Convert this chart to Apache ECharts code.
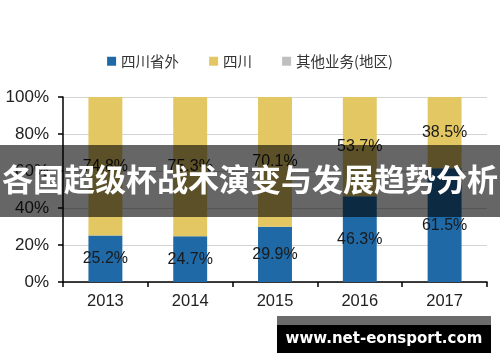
<!DOCTYPE html>
<html><head><meta charset="utf-8">
<script src="https://cdn.jsdelivr.net/npm/echarts@6/dist/echarts.min.js"></script>
<style>html,body{margin:0;padding:0;background:#fff}#c{width:500px;height:362px}</style>
</head><body><div id="c"></div>
<script>
const categories = ['2013','2014','2015','2016','2017'];
const outside = [25.2, 24.7, 29.9, 46.3, 61.5];
const sichuan = [74.8, 75.3, 70.1, 53.7, 38.5];
const other = [0, 0, 0, 0, 0];
const seriesNames = ['四川省外','四川','其他业务(地区)'];
const yTicks = [0,20,40,60,80,100];

const chart = echarts.init(document.getElementById('c'));
const lbl = {show:true, position:'inside', formatter: p => p.value.toFixed(1)+'%', color:'#1a1a1a', fontFamily:'Liberation Sans, Arial', fontSize:16};
chart.setOption({
  animation:false,
  legend:{top:49, left:'center', itemWidth:9, itemHeight:9, itemGap:30, icon:'rect',
    textStyle:{fontFamily:'Noto Sans CJK SC', fontSize:14.5, color:'#333'}, data:seriesNames},
  grid:{left:63, right:13, top:97, bottom:80},
  xAxis:{type:'category', data:categories,
    axisLine:{lineStyle:{color:'#000', width:1.5}},
    axisTick:{show:true, length:5, lineStyle:{color:'#000', width:1.5}},
    axisLabel:{fontFamily:'Liberation Sans, Arial', fontSize:16.5, color:'#222', margin:11}},
  yAxis:{type:'value', min:0, max:100, interval:20,
    axisLine:{show:true, lineStyle:{color:'#000', width:1.5}},
    axisTick:{show:true, length:5, lineStyle:{color:'#000', width:1.5}},
    splitLine:{lineStyle:{color:'#d4d4d4', width:1.2}},
    axisLabel:{formatter:'{value}%', fontFamily:'Liberation Sans, Arial', fontSize:17, color:'#222', margin:14}},
  series:[
    {name:seriesNames[0], type:'bar', stack:'s', data:outside, barWidth:'40%', itemStyle:{color:'#1f69a6'}, label:lbl},
    {name:seriesNames[1], type:'bar', stack:'s', data:sichuan, itemStyle:{color:'#e3c762'}, label:lbl},
    {name:seriesNames[2], type:'bar', stack:'s', data:other, itemStyle:{color:'#bfbfbf'}, label:{show:false}}
  ],
  graphic:[
    {type:'rect', left:0, top:145, shape:{width:500, height:72}, style:{fill:'rgba(0,0,0,0.6)'}, z:100},
    {type:'text', left:'center', top:164, style:{text:'各国超级杯战术演变与发展趋势分析', fill:'#fff', font:'bold 31px "Noto Sans CJK SC"'}, z:101},
    {type:'rect', left:277, top:316, shape:{width:214, height:10}, style:{fill:'#6b6b6b'}, z:100},
    {type:'rect', left:277, top:325, shape:{width:214, height:28}, style:{fill:'#000'}, z:100},
    {type:'text', x:384, y:339, style:{text:'www.net-eonsport.com', fill:'#fff', font:'bold 15px "DejaVu Sans"', textAlign:'center', textVerticalAlign:'middle'}, z:101}
  ]
});
</script></body></html>
